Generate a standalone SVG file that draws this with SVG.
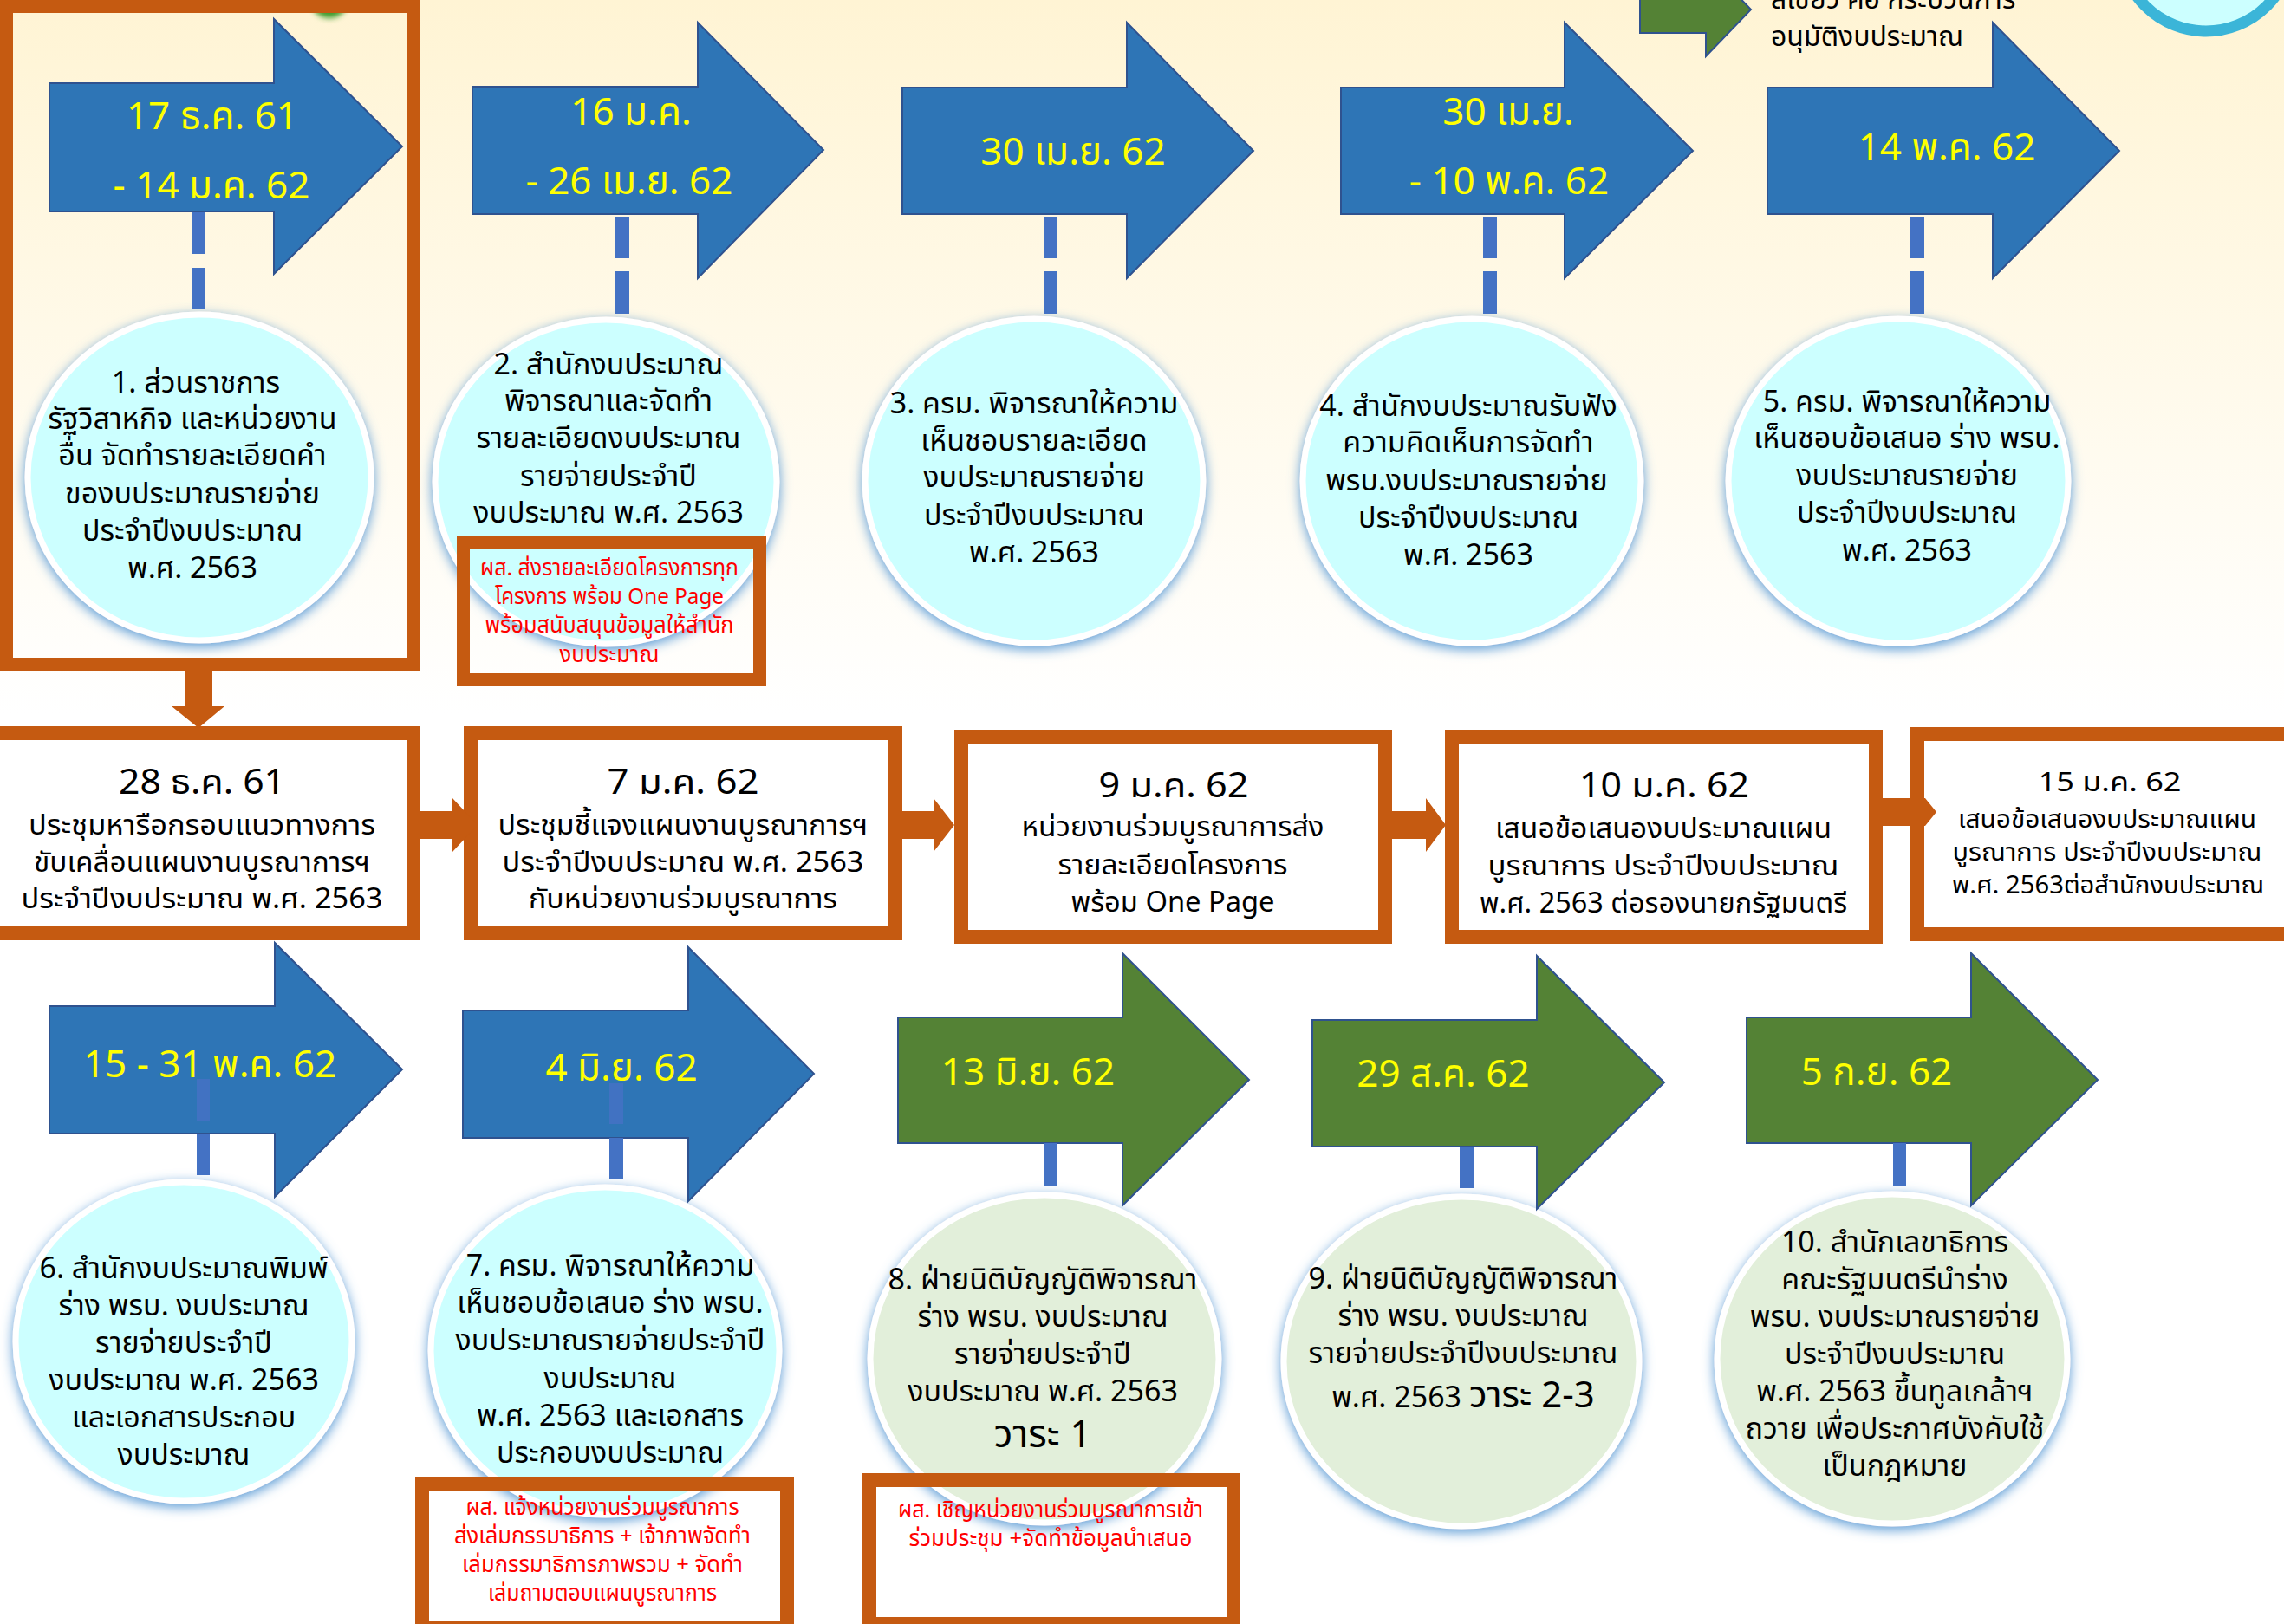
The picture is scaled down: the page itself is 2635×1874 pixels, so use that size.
<svg xmlns="http://www.w3.org/2000/svg" width="2635" height="1874" viewBox="0 0 2635 1874">
<defs>
<linearGradient id="bg" x1="0" y1="0" x2="0" y2="1874" gradientUnits="userSpaceOnUse">
<stop offset="0" stop-color="#FFF4D4"/>
<stop offset="0.44" stop-color="#FFFFFF"/>
<stop offset="1" stop-color="#FFFFFF"/>
</linearGradient>
<filter id="glow" x="-15%" y="-15%" width="130%" height="135%">
<feGaussianBlur in="SourceAlpha" stdDeviation="7" result="b"/>
<feOffset in="b" dy="4" result="o"/>
<feFlood flood-color="#5B9BD5"/>
<feComposite in2="o" operator="in" result="s"/>
<feMerge><feMergeNode in="s"/><feMergeNode in="SourceGraphic"/></feMerge>
</filter>
<filter id="soft" x="-50%" y="-50%" width="200%" height="200%">
<feGaussianBlur stdDeviation="3"/>
</filter>
<style>
.t{font-family:"Noto Sans Thai","Noto Sans Thai UI","Loma","Garuda","Tahoma","Noto Sans",sans-serif;text-anchor:middle}
.c{font-size:34px;fill:#000}
.d{font-size:44px;fill:#FFFF00}
.bh{font-size:40px;fill:#000}
.bl{font-size:32px;fill:#000}
.r{font-size:26px;fill:#FF0000}
.blue{fill:#2E75B6;stroke:#2F528F;stroke-width:2}
.green{fill:#548235;stroke:#2F528F;stroke-width:2}
.cy{fill:#CCFFFF;stroke:#FFFFFF;stroke-width:7;filter:url(#glow)}
.gr{fill:#E2EFDA;stroke:#FFFFFF;stroke-width:7;filter:url(#glow)}
.ob{fill:none;stroke:#C55A11;stroke-width:16}
.obw{fill:#FFFFFF;stroke:#C55A11;stroke-width:16}
.oa{fill:#C55A11}
.dash{fill:#4472C4}
</style>
</defs>
<rect x="0" y="0" width="2635" height="1874" fill="url(#bg)"/>
<ellipse cx="380" cy="6" rx="19" ry="15" fill="#3A9A2A" filter="url(#soft)"/>

<!-- legend top right -->
<g id="legend">
<polygon class="green" points="1892,-16 1968,-16 1968,-43 2020,11 1968,65 1968,38 1892,38"/>
<text x="2043" y="10" style="font-family:'Noto Sans Thai','Loma','Tahoma','Noto Sans',sans-serif;font-size:32px;fill:#000">สีเขียว คือ กระบวนการ</text>
<text x="2043" y="53" style="font-family:'Noto Sans Thai','Loma','Tahoma','Noto Sans',sans-serif;font-size:32px;fill:#000">อนุมัติงบประมาณ</text>
<circle cx="2545" cy="-63" r="99" fill="#CCFFFF" stroke="#3BB5D8" stroke-width="13"/>
</g>

<!-- row 2 boxes -->
<g id="boxA">
<rect class="obw" x="-12" y="846" width="489" height="231"/>
<text class="t bh" x="233" y="916" textLength="192" lengthAdjust="spacingAndGlyphs">28 ธ.ค. 61</text>
<text class="t bl" x="233" y="963" textLength="400" lengthAdjust="spacingAndGlyphs">ประชุมหารือกรอบแนวทางการ</text>
<text class="t bl" x="233" y="1006" textLength="388" lengthAdjust="spacingAndGlyphs">ขับเคลื่อนแผนงานบูรณาการฯ</text>
<text class="t bl" x="233" y="1048" textLength="417" lengthAdjust="spacingAndGlyphs">ประจำปีงบประมาณ พ.ศ. 2563</text>
</g>
<g id="boxB">
<rect class="obw" x="543" y="846" width="490" height="231"/>
<text class="t bh" x="788" y="916" textLength="175" lengthAdjust="spacingAndGlyphs">7 ม.ค. 62</text>
<text class="t bl" x="788" y="963" textLength="427" lengthAdjust="spacingAndGlyphs">ประชุมชี้แจงแผนงานบูรณาการฯ</text>
<text class="t bl" x="788" y="1006" textLength="417" lengthAdjust="spacingAndGlyphs">ประจำปีงบประมาณ พ.ศ. 2563</text>
<text class="t bl" x="788" y="1048" textLength="356" lengthAdjust="spacingAndGlyphs">กับหน่วยงานร่วมบูรณาการ</text>
</g>
<g id="boxC">
<rect class="obw" x="1109" y="850" width="489" height="231"/>
<text class="t bh" x="1354" y="920" textLength="173" lengthAdjust="spacingAndGlyphs">9 ม.ค. 62</text>
<text class="t bl" x="1353" y="965" textLength="349" lengthAdjust="spacingAndGlyphs">หน่วยงานร่วมบูรณาการส่ง</text>
<text class="t bl" x="1353" y="1009" textLength="265" lengthAdjust="spacingAndGlyphs">รายละเอียดโครงการ</text>
<text class="t bl" x="1353" y="1052" textLength="235" lengthAdjust="spacingAndGlyphs">พร้อม One Page</text>
</g>
<g id="boxD">
<rect class="obw" x="1675" y="850" width="489" height="231"/>
<text class="t bh" x="1920" y="920" textLength="196" lengthAdjust="spacingAndGlyphs">10 ม.ค. 62</text>
<text class="t bl" x="1919" y="967" textLength="388" lengthAdjust="spacingAndGlyphs">เสนอข้อเสนองบประมาณแผน</text>
<text class="t bl" x="1919" y="1010" textLength="405" lengthAdjust="spacingAndGlyphs">บูรณาการ ประจำปีงบประมาณ</text>
<text class="t bl" x="1919" y="1053" textLength="424" lengthAdjust="spacingAndGlyphs">พ.ศ. 2563 ต่อรองนายกรัฐมนตรี</text>
</g>
<g id="boxE">
<rect class="obw" x="2212" y="847" width="460" height="231"/>
<text class="t bh" x="2434" y="913" style="font-size:31px" textLength="165" lengthAdjust="spacingAndGlyphs">15 ม.ค. 62</text>
<text class="t bl" x="2431" y="955" style="font-size:29px" textLength="344" lengthAdjust="spacingAndGlyphs">เสนอข้อเสนองบประมาณแผน</text>
<text class="t bl" x="2431" y="993" style="font-size:29px" textLength="357" lengthAdjust="spacingAndGlyphs">บูรณาการ ประจำปีงบประมาณ</text>
<text class="t bl" x="2432" y="1031" style="font-size:29px" textLength="360" lengthAdjust="spacingAndGlyphs">พ.ศ. 2563ต่อสำนักงบประมาณ</text>
</g>

<!-- circles row 1 -->
<g id="step1">
<ellipse class="cy" cx="230" cy="551" rx="198" ry="188"/>
<text class="t c" x="226" y="453">1. ส่วนราชการ</text>
<text class="t c" x="222" y="495">รัฐวิสาหกิจ และหน่วยงาน</text>
<text class="t c" x="222" y="537">อื่น จัดทำรายละเอียดคำ</text>
<text class="t c" x="222" y="581">ของบประมาณรายจ่าย</text>
<text class="t c" x="222" y="624">ประจำปีงบประมาณ</text>
<text class="t c" x="222" y="667">พ.ศ. 2563</text>
</g>
<g id="step2">
<ellipse class="cy" cx="699" cy="556" rx="197" ry="187"/>
<text class="t c" x="702" y="432">2. สำนักงบประมาณ</text>
<text class="t c" x="702" y="474">พิจารณาและจัดทำ</text>
<text class="t c" x="702" y="517">รายละเอียดงบประมาณ</text>
<text class="t c" x="702" y="561">รายจ่ายประจำปี</text>
<text class="t c" x="702" y="603">งบประมาณ พ.ศ. 2563</text>
</g>
<g id="step3">
<ellipse class="cy" cx="1193" cy="555" rx="195" ry="187"/>
<text class="t c" x="1193" y="477">3. ครม. พิจารณาให้ความ</text>
<text class="t c" x="1193" y="520">เห็นชอบรายละเอียด</text>
<text class="t c" x="1193" y="562">งบประมาณรายจ่าย</text>
<text class="t c" x="1193" y="606">ประจำปีงบประมาณ</text>
<text class="t c" x="1193" y="649">พ.ศ. 2563</text>
</g>
<g id="step4">
<ellipse class="cy" cx="1698" cy="555" rx="195" ry="187"/>
<text class="t c" x="1694" y="480">4. สำนักงบประมาณรับฟัง</text>
<text class="t c" x="1694" y="522">ความคิดเห็นการจัดทำ</text>
<text class="t c" x="1692" y="566">พรบ.งบประมาณรายจ่าย</text>
<text class="t c" x="1694" y="609">ประจำปีงบประมาณ</text>
<text class="t c" x="1694" y="652">พ.ศ. 2563</text>
</g>
<g id="step5">
<ellipse class="cy" cx="2190" cy="555" rx="196" ry="187"/>
<text class="t c" x="2200" y="475">5. ครม. พิจารณาให้ความ</text>
<text class="t c" x="2200" y="517">เห็นชอบข้อเสนอ ร่าง พรบ.</text>
<text class="t c" x="2200" y="560">งบประมาณรายจ่าย</text>
<text class="t c" x="2200" y="603">ประจำปีงบประมาณ</text>
<text class="t c" x="2200" y="647">พ.ศ. 2563</text>
</g>

<!-- circles row 3 -->
<g id="step6">
<ellipse class="cy" cx="212" cy="1548" rx="194" ry="184"/>
<text class="t c" x="212" y="1475">6. สำนักงบประมาณพิมพ์</text>
<text class="t c" x="212" y="1518">ร่าง พรบ. งบประมาณ</text>
<text class="t c" x="212" y="1561">รายจ่ายประจำปี</text>
<text class="t c" x="212" y="1604">งบประมาณ พ.ศ. 2563</text>
<text class="t c" x="212" y="1647">และเอกสารประกอบ</text>
<text class="t c" x="212" y="1690">งบประมาณ</text>
</g>
<g id="step7">
<ellipse class="cy" cx="698" cy="1559" rx="201" ry="189"/>
<text class="t c" x="704" y="1472">7. ครม. พิจารณาให้ความ</text>
<text class="t c" x="704" y="1515">เห็นชอบข้อเสนอ ร่าง พรบ.</text>
<text class="t c" x="704" y="1558">งบประมาณรายจ่ายประจำปี</text>
<text class="t c" x="704" y="1602">งบประมาณ</text>
<text class="t c" x="704" y="1645">พ.ศ. 2563 และเอกสาร</text>
<text class="t c" x="704" y="1688">ประกอบงบประมาณ</text>
</g>
<g id="step8">
<ellipse class="gr" cx="1205" cy="1568" rx="201" ry="189"/>
<text class="t c" x="1203" y="1488">8. ฝ่ายนิติบัญญัติพิจารณา</text>
<text class="t c" x="1203" y="1531">ร่าง พรบ. งบประมาณ</text>
<text class="t c" x="1203" y="1574">รายจ่ายประจำปี</text>
<text class="t c" x="1203" y="1617">งบประมาณ พ.ศ. 2563</text>
<text class="t c" x="1203" y="1670" style="font-size:44px">วาระ 1</text>
</g>
<g id="step9">
<ellipse class="gr" cx="1686" cy="1571" rx="205" ry="190"/>
<text class="t c" x="1688" y="1487">9. ฝ่ายนิติบัญญัติพิจารณา</text>
<text class="t c" x="1688" y="1530">ร่าง พรบ. งบประมาณ</text>
<text class="t c" x="1688" y="1573">รายจ่ายประจำปีงบประมาณ</text>
<text class="t c" x="1688" y="1624">พ.ศ. 2563 <tspan style="font-size:42px">วาระ 2-3</tspan></text>
</g>
<g id="step10">
<ellipse class="gr" cx="2183" cy="1568" rx="202" ry="190"/>
<text class="t c" x="2186" y="1445">10. สำนักเลขาธิการ</text>
<text class="t c" x="2186" y="1488">คณะรัฐมนตรีนำร่าง</text>
<text class="t c" x="2186" y="1531">พรบ. งบประมาณรายจ่าย</text>
<text class="t c" x="2186" y="1574">ประจำปีงบประมาณ</text>
<text class="t c" x="2186" y="1617">พ.ศ. 2563 ขึ้นทูลเกล้าฯ</text>
<text class="t c" x="2186" y="1660">ถวาย เพื่อประกาศบังคับใช้</text>
<text class="t c" x="2186" y="1703">เป็นกฎหมาย</text>
</g>

<!-- frame and note boxes -->
<g id="frame1">
<rect class="ob" x="7.5" y="7.5" width="470" height="759" style="stroke-width:15"/>
</g>
<g id="note1">
<rect class="ob" x="534.5" y="625.5" width="342" height="159" style="stroke-width:15"/>
<text class="t r" x="703" y="664" textLength="298" lengthAdjust="spacingAndGlyphs">ผส. ส่งรายละเอียดโครงการทุก</text>
<text class="t r" x="703" y="697" textLength="264" lengthAdjust="spacingAndGlyphs">โครงการ พร้อม One Page</text>
<text class="t r" x="703" y="730" textLength="287" lengthAdjust="spacingAndGlyphs">พร้อมสนับสนุนข้อมูลให้สำนัก</text>
<text class="t r" x="703" y="764" textLength="115" lengthAdjust="spacingAndGlyphs">งบประมาณ</text>
</g>
<g id="note2">
<rect class="ob" x="487" y="1712" width="421" height="166"/>
<text class="t r" x="695" y="1748" textLength="315" lengthAdjust="spacingAndGlyphs">ผส. แจ้งหน่วยงานร่วมบูรณาการ</text>
<text class="t r" x="695" y="1781" textLength="342" lengthAdjust="spacingAndGlyphs">ส่งเล่มกรรมาธิการ + เจ้าภาพจัดทำ</text>
<text class="t r" x="695" y="1814" textLength="324" lengthAdjust="spacingAndGlyphs">เล่มกรรมาธิการภาพรวม + จัดทำ</text>
<text class="t r" x="695" y="1847" textLength="264" lengthAdjust="spacingAndGlyphs">เล่มถามตอบแผนบูรณาการ</text>
</g>
<g id="note3">
<rect class="ob" x="1003" y="1708" width="420" height="166"/>
<text class="t r" x="1212" y="1751" textLength="352" lengthAdjust="spacingAndGlyphs">ผส. เชิญหน่วยงานร่วมบูรณาการเข้า</text>
<text class="t r" x="1212" y="1784" textLength="327" lengthAdjust="spacingAndGlyphs">ร่วมประชุม +จัดทำข้อมูลนำเสนอ</text>
</g>

<!-- date arrows -->
<g id="arrow1">
<polygon class="blue" points="57,96 316,96 316,22 464,169 316,316 316,244 57,244"/>
<text class="t d" x="245" y="149">17 ธ.ค. 61</text>
<text class="t d" x="244" y="229">- 14 ม.ค. 62</text>
</g>
<g id="arrow2">
<polygon class="blue" points="545,100 805,100 805,26 950,173 805,321 805,247 545,247"/>
<text class="t d" x="728" y="144">16 ม.ค.</text>
<text class="t d" x="726" y="224">- 26 เม.ย. 62</text>
</g>
<g id="arrow3">
<polygon class="blue" points="1041,101 1300,101 1300,26 1446,174 1300,321 1300,247 1041,247"/>
<text class="t d" x="1238" y="190">30 เม.ย. 62</text>
</g>
<g id="arrow4">
<polygon class="blue" points="1547,101 1805,101 1805,26 1953,174 1805,321 1805,247 1547,247"/>
<text class="t d" x="1740" y="144">30 เม.ย.</text>
<text class="t d" x="1741" y="224">- 10 พ.ค. 62</text>
</g>
<g id="arrow5">
<polygon class="blue" points="2039,101 2299,101 2299,26 2445,174 2299,321 2299,247 2039,247"/>
<text class="t d" x="2246" y="185">14 พ.ค. 62</text>
</g>
<g id="arrow6">
<polygon class="blue" points="57,1161 317,1161 317,1088 464,1234 317,1381 317,1308 57,1308"/>
<text class="t d" x="242" y="1243">15 - 31 พ.ค. 62</text>
</g>
<g id="arrow7">
<polygon class="blue" points="534,1166 794,1166 794,1093 939,1239 794,1386 794,1313 534,1313"/>
<text class="t d" x="717" y="1247">4 มิ.ย. 62</text>
</g>
<g id="arrow8">
<polygon class="green" points="1036,1174 1295,1174 1295,1100 1441,1246 1295,1391 1295,1319 1036,1319"/>
<text class="t d" x="1186" y="1252">13 มิ.ย. 62</text>
</g>
<g id="arrow9">
<polygon class="green" points="1514,1177 1773,1177 1773,1103 1920,1249 1773,1395 1773,1323 1514,1323"/>
<text class="t d" x="1665" y="1254">29 ส.ค. 62</text>
</g>
<g id="arrow10">
<polygon class="green" points="2015,1174 2274,1174 2274,1100 2420,1246 2274,1391 2274,1319 2015,1319"/>
<text class="t d" x="2165" y="1252">5 ก.ย. 62</text>
</g>

<!-- connectors -->
<g id="connectors">
<rect class="dash" x="222" y="245" width="15" height="48"/>
<rect class="dash" x="222" y="309" width="15" height="48"/>
<rect class="dash" x="710" y="250" width="16" height="48"/>
<rect class="dash" x="710" y="313" width="16" height="49"/>
<rect class="dash" x="1204" y="250" width="16" height="48"/>
<rect class="dash" x="1204" y="313" width="16" height="49"/>
<rect class="dash" x="1711" y="250" width="16" height="48"/>
<rect class="dash" x="1711" y="313" width="16" height="49"/>
<rect class="dash" x="2204" y="250" width="16" height="48"/>
<rect class="dash" x="2204" y="313" width="16" height="49"/>
<polygon class="oa" points="214,774 245,774 245,815 259,815 229,840 198,815 214,815"/>
<polygon class="oa" points="485,936 522,936 522,921 551,952 522,983 522,968 485,968"/>
<polygon class="oa" points="1041,936 1077,936 1077,921 1101,952 1077,983 1077,968 1041,968"/>
<polygon class="oa" points="1606,936 1645,936 1645,921 1668,952 1645,983 1645,968 1606,968"/>
<polygon class="oa" points="2172,921 2221,921 2234,937 2221,953 2172,953"/>
<rect class="dash" x="227" y="1245" width="15" height="48" opacity="0.85"/>
<rect class="dash" x="227" y="1309" width="15" height="47"/>
<rect class="dash" x="703" y="1250" width="16" height="47" opacity="0.85"/>
<rect class="dash" x="703" y="1313" width="16" height="48"/>
<rect class="dash" x="1205" y="1319" width="15" height="49"/>
<rect class="dash" x="1684" y="1323" width="16" height="48"/>
<rect class="dash" x="2184" y="1319" width="15" height="49"/>
</g>
</svg>
